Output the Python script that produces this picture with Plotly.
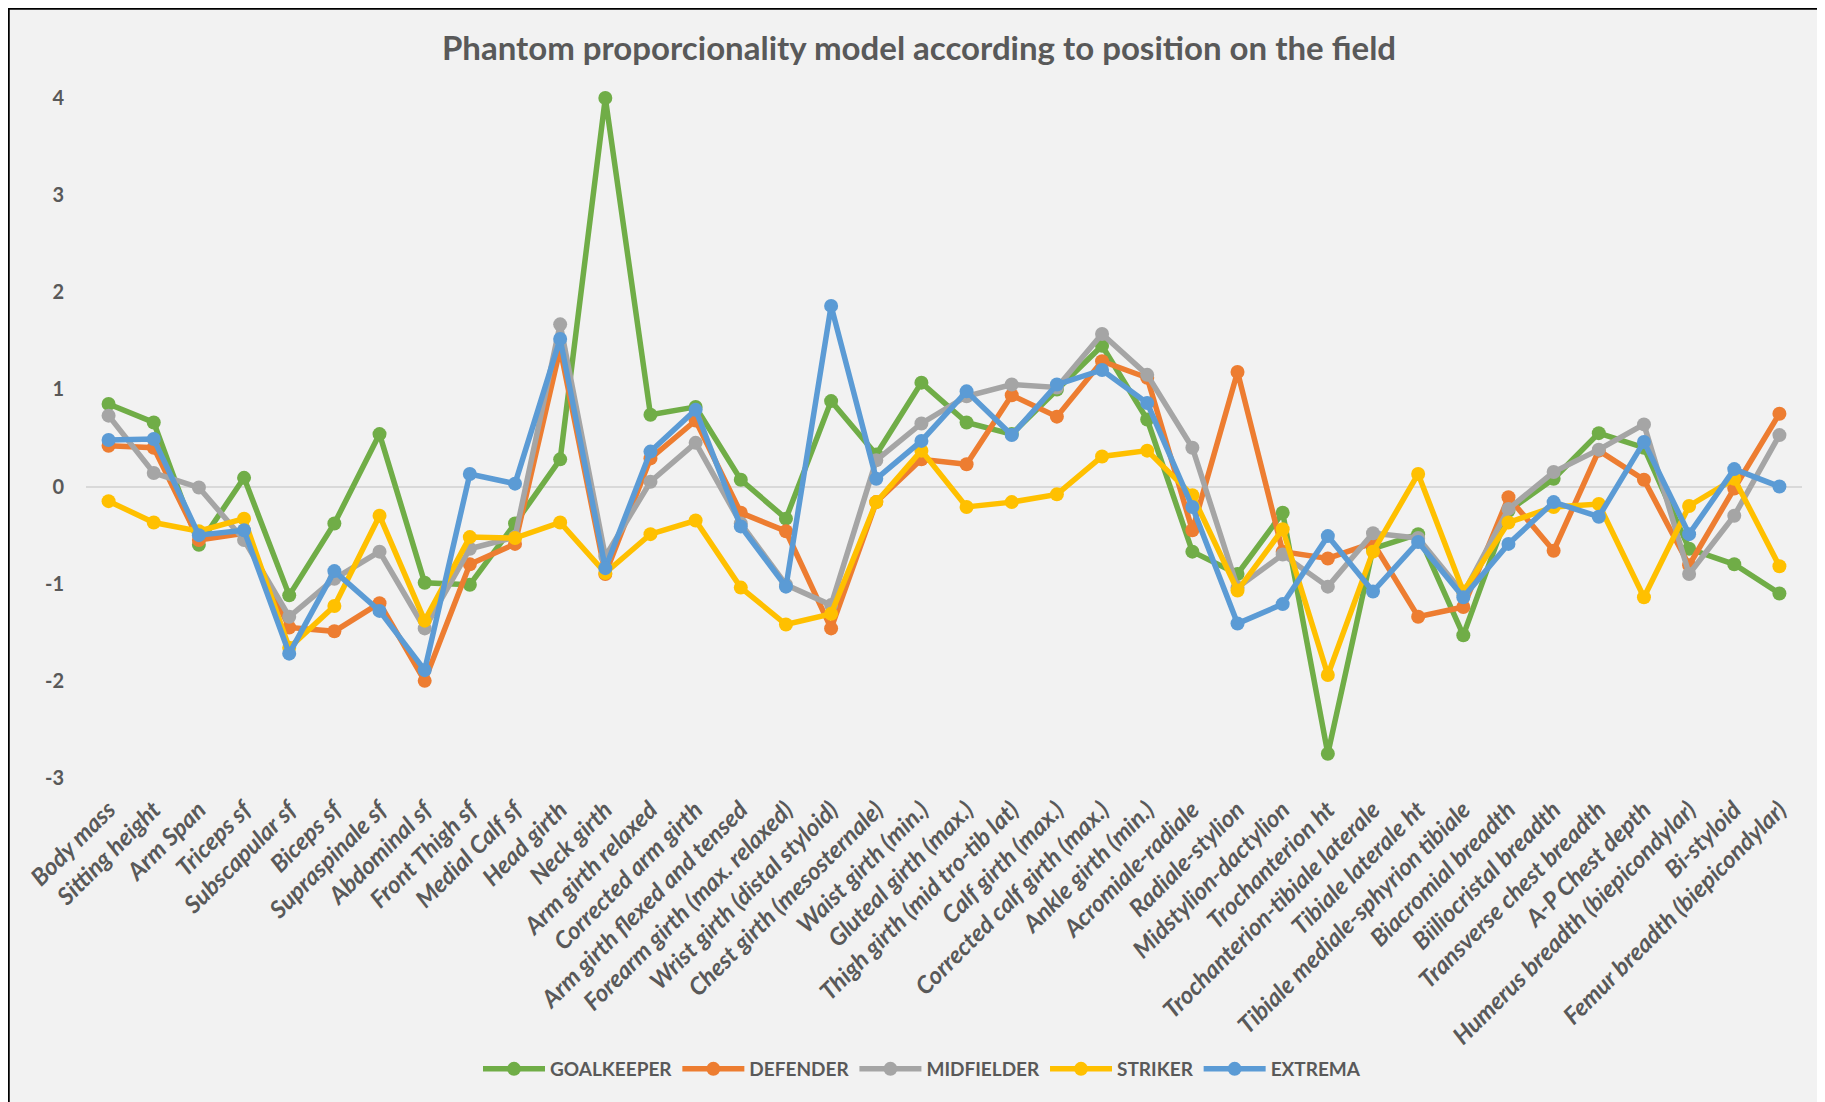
import plotly.graph_objects as go

categories = [
    "Body mass", "Sitting height", "Arm Span", "Triceps sf", "Subscapular sf",
    "Biceps sf", "Supraspinale sf", "Abdominal sf", "Front Thigh sf", "Medial Calf sf",
    "Head girth", "Neck girth", "Arm girth relaxed", "Corrected arm girth",
    "Arm girth flexed and tensed", "Forearm girth (max. relaxed)",
    "Wrist girth (distal styloid)", "Chest girth (mesosternale)", "Waist girth (min.)",
    "Gluteal girth (max.)", "Thigh girth (mid tro-tib lat)", "Calf girth (max.)",
    "Corrected calf girth (max.)", "Ankle girth (min.)", "Acromiale-radiale",
    "Radiale-stylion", "Midstylion-dactylion", "Trochanterion ht",
    "Trochanterion-tibiale laterale", "Tibiale laterale ht",
    "Tibiale mediale-sphyrion tibiale", "Biacromial breadth", "Biiliocristal breadth",
    "Transverse chest breadth", "A-P Chest depth", "Humerus breadth (biepicondylar)",
    "Bi-styloid", "Femur breadth (biepicondylar)",
]

goalkeeper = [0.85, 0.66, -0.60, 0.09, -1.12, -0.38, 0.54, -0.99, -1.01, -0.38,
              0.28, 4.00, 0.74, 0.82, 0.07, -0.33, 0.88, 0.33, 1.07, 0.66,
              0.54, 1.00, 1.45, 0.69, -0.67, -0.90, -0.27, -2.75, -0.64, -0.49,
              -1.53, -0.25, 0.08, 0.55, 0.40, -0.64, -0.80, -1.10]
defender = [0.42, 0.40, -0.55, -0.48, -1.45, -1.49, -1.20, -2.00, -0.80, -0.59,
            1.42, -0.90, 0.29, 0.68, -0.27, -0.46, -1.46, -0.16, 0.28, 0.23,
            0.94, 0.72, 1.29, 1.12, -0.45, 1.18, -0.67, -0.74, -0.58, -1.34,
            -1.24, -0.11, -0.66, 0.37, 0.07, -0.81, -0.02, 0.75]
midfielder = [0.73, 0.14, -0.01, -0.55, -1.34, -0.95, -0.67, -1.46, -0.64, -0.52,
              1.67, -0.72, 0.05, 0.45, -0.38, -1.01, -1.22, 0.27, 0.65, 0.93,
              1.05, 1.02, 1.57, 1.15, 0.40, -1.04, -0.70, -1.03, -0.48, -0.53,
              -1.10, -0.23, 0.15, 0.38, 0.64, -0.90, -0.30, 0.53]
striker = [-0.15, -0.37, -0.46, -0.33, -1.66, -1.23, -0.30, -1.38, -0.52, -0.53,
           -0.37, -0.89, -0.49, -0.35, -1.04, -1.42, -1.31, -0.16, 0.37, -0.21,
           -0.16, -0.08, 0.31, 0.37, -0.09, -1.07, -0.44, -1.94, -0.67, 0.13,
           -1.08, -0.37, -0.21, -0.18, -1.14, -0.20, 0.08, -0.82]
extrema = [0.48, 0.49, -0.50, -0.45, -1.72, -0.87, -1.28, -1.89, 0.13, 0.03,
           1.52, -0.84, 0.36, 0.79, -0.41, -1.03, 1.86, 0.08, 0.47, 0.98,
           0.53, 1.05, 1.20, 0.86, -0.21, -1.41, -1.21, -0.51, -1.08, -0.57,
           -1.14, -0.59, -0.16, -0.31, 0.46, -0.49, 0.18, 0.00]

series_names = ["GOALKEEPER", "DEFENDER", "MIDFIELDER", "STRIKER", "EXTREMA"]
series_values = [goalkeeper, defender, midfielder, striker, extrema]
colors = ["#70AD47", "#ED7D31", "#A5A5A5", "#FFC000", "#5B9BD5"]

y_tick_values = [-3, -2, -1, 0, 1, 2, 3, 4]
y_tick_labels = ["-3", "-2", "-1", "0", "1", "2", "3", "4"]

# page body has an 8px margin; figure coordinates are page coordinates - 8
W, H = 1817, 1094
ML, MR, MT, MB = 78, 23, 90, 324
PW, PH = W - ML - MR, H - MT - MB


def px(x):
    return (x - ML) / PW


def py(y):
    return (H - MB - y) / PH


fig = go.Figure()
for name, vals, col in zip(series_names, series_values, colors):
    fig.add_trace(go.Scatter(
        x=categories, y=vals, name=name, mode="lines+markers",
        line=dict(color=col, width=5.5),
        marker=dict(color=col, size=14),
        cliponaxis=False,
    ))

shapes = [
    dict(type="line", xref="paper", yref="paper", x0=px(0), x1=px(W + 5),
         y0=py(0.5), y1=py(0.5), line=dict(color="black", width=2.5), layer="above"),
    dict(type="line", xref="paper", yref="paper", x0=px(0.5), x1=px(0.5),
         y0=py(0), y1=py(H + 5), line=dict(color="black", width=2.5), layer="above"),
]

fig.update_layout(
    width=W, height=H,
    margin=dict(l=ML, r=MR, t=MT, b=MB, pad=0),
    paper_bgcolor="#F2F2F2",
    plot_bgcolor="#F2F2F2",
    title=dict(
        text="<b>Phantom proporcionality model according to position on the field</b>",
        x=911 / W, xanchor="center", xref="container",
        y=1 - 40 / H, yanchor="middle", yref="container",
        font=dict(family="Lato", size=33, color="#595959"),
    ),
    xaxis=dict(
        type="category", range=[-0.5, len(categories) - 0.5],
        showgrid=False, zeroline=False, showline=False, ticks="",
        tickangle=-45, ticklabelstandoff=12,
        tickfont=dict(family="Lato", size=24, color="#595959", style="italic", weight="bold"),
    ),
    yaxis=dict(
        range=[-3, 4], tickmode="array", tickvals=y_tick_values, ticktext=y_tick_labels,
        showgrid=False, zeroline=True, zerolinecolor="#D9D9D9", zerolinewidth=2,
        showline=False, ticks="", ticklabelstandoff=21,
        tickfont=dict(family="Lato", size=20, color="#595959", weight="bold"),
    ),
    legend=dict(
        orientation="h", x=px(914), xanchor="center", y=py(1061), yanchor="middle",
        font=dict(family="Lato", size=19, color="#595959", weight="bold"),
        bgcolor="rgba(0,0,0,0)", itemwidth=62,
    ),
    shapes=shapes,
    showlegend=True,
)

fig.write_html("out.html")
